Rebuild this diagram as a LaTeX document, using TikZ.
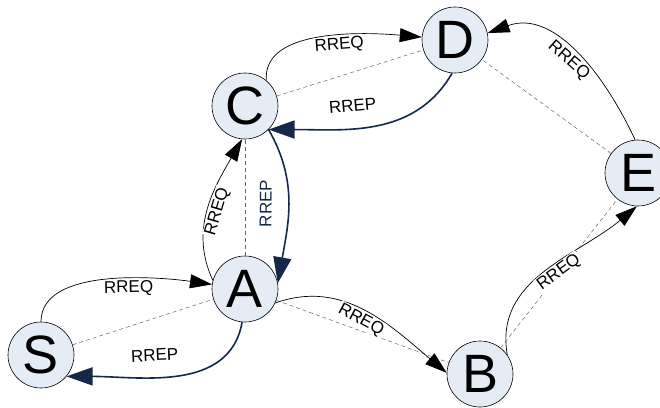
\documentclass[tikz,border=0pt]{standalone}
\usepackage{fontspec}
\setmainfont{Liberation Sans}
\usetikzlibrary{arrows.meta,backgrounds}
\definecolor{nodefill}{RGB}{230,236,246}
\definecolor{navy}{RGB}{22,40,74}

\begin{document}
\begin{tikzpicture}[x=1pt, y=1pt,
  station/.style={circle, draw, fill=nodefill, line width=0.6pt, minimum size=66pt, inner sep=0pt, font=\fontsize{54}{54}\selectfont},
  req/.style={-{Triangle[length=22pt,width=14pt]}, line width=0.7pt},
  rep/.style={-{Triangle[length=26pt,width=18pt]}, line width=1.6pt, navy},
  link/.style={draw=black!60, line width=0.5pt, dash pattern=on 4pt off 3pt},
  lbl/.style={font=\fontsize{17}{17}\selectfont, sloped, inner sep=1pt, fill=white, below=1pt},
  rlbl/.style={font=\fontsize{17}{17}\selectfont, sloped, inner sep=1pt, above=15pt, text=black}]
  \useasboundingbox (0,0) rectangle (660,407);
  \clip (0,0) rectangle (660,407);

  \node[station] (s) at (41,52)  {S};
  \node[station] (a) at (245,118) {A};
  \node[station] (c) at (245,301) {C};
  \node[station] (d) at (455,367) {D};
  \node[station] (e) at (638,234) {E};
  \node[station] (b) at (480,33)  {B};

  % links
  \path[link]
  (s) edge (a)
  (a) edge (c)
  (c) edge (d)
  (a) edge (b)
  (b) edge (e)
  (e) edge (d)
  ;
  % route requests
  \path[req]
  (s) edge[out=90, in=172, looseness=0.8] node[lbl, pos=0.6] {RREQ} (a)
  (a.165) edge[out=115, in=-120] node[lbl] {RREQ} (c.-95)
  (c.50) edge[out=95, in=175, looseness=0.85] node[lbl, pos=0.58] {RREQ} (d)
  (a.-25) edge[out=20, in=140] node[lbl] {RREQ} (b.178)
  (b.35) edge[out=100, in=220] node[lbl, pos=0.55] {RREQ} (e.-92)
  (e.95) edge[out=115, in=20] node[lbl] {RREQ} (d.12)
  ;
  % route replies
  \path[rep]
  (a.-95) edge[out=-100, in=0] node[rlbl, pos=0.6] {RREP} (s.-40)
  (c.-45) edge[out=-60, in=80] node[rlbl, text=navy] {RREP} (a.10)
  (d.-95) edge[out=-120, in=0] node[rlbl, pos=0.6] {RREP} (c.-45)
  ;
\end{tikzpicture}
\end{document}
